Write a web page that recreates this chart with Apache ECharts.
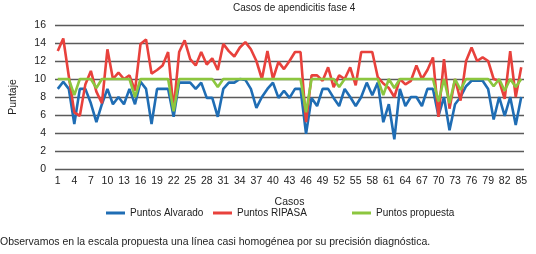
<!DOCTYPE html>
<html>
<head>
<meta charset="utf-8">
<script src="https://cdn.jsdelivr.net/npm/echarts@6/dist/echarts.min.js"></script>
<style>
  html, body { margin: 0; padding: 0; background: #fff; }
  #chart { width: 536px; height: 254px; }
</style>
</head>
<body>
<div id="chart"></div>
<script>
var casos = ['1','2','3','4','5','6','7','8','9','10','11','12','13','14','15','16','17','18','19','20',
    '21','22','23','24','25','26','27','28','29','30','31','32','33','34','35','36','37','38','39','40',
    '41','42','43','44','45','46','47','48','49','50','51','52','53','54','55','56','57','58','59','60',
    '61','62','63','64','65','66','67','68','69','70','71','72','73','74','75','76','77','78','79','80',
    '81','82','83','84','85'];

var puntosAlvarado = [8.9, 9.7, 8.9, 5.0, 8.9, 8.9, 7.3, 5.2, 7.2, 8.9,
    7.2, 8.0, 7.2, 8.9, 7.2, 9.7, 8.9, 5.0, 8.9, 8.9,
    8.9, 5.8, 9.6, 9.6, 9.6, 8.9, 9.6, 7.9, 7.9, 5.8,
    8.9, 9.6, 9.6, 10, 9.9, 8.9, 6.8, 8.0, 8.9, 9.6,
    7.9, 8.7, 7.9, 8.9, 8.9, 3.9, 7.9, 7.0, 8.9, 8.9,
    7.9, 7.0, 8.9, 8.0, 7.0, 8.0, 9.6, 8.2, 9.6, 5.2,
    7.2, 3.3, 8.9, 7.0, 8.0, 8.0, 7.0, 8.9, 8.9, 5.9,
    8.0, 4.3, 7.2, 8.0, 9.2, 9.8, 9.8, 9.8, 8.9, 5.5,
    8.0, 5.9, 8.0, 4.9, 8.0];

var puntosRipasa = [13.1, 14.5, 10.3, 6.3, 5.9, 9.4, 10.9, 8.6, 7.3, 13.3,
    10, 10.7, 10, 10.4, 8.7, 13.9, 14.4, 10.6, 11, 11.5,
    13, 6.6, 13, 14.3, 12.2, 11.5, 13, 11.6, 12.3, 11,
    13.9, 13.1, 12.5, 13.5, 14.1, 13.3, 12, 10, 13.1, 10,
    11.9, 11.1, 12, 13, 13, 5.2, 10.4, 10.4, 9.8, 11.3,
    9.1, 10.4, 10, 11.3, 9.3, 13, 13, 13, 10.2, 9.5,
    9, 8, 10, 9.4, 9.8, 11.5, 10, 11, 12.4, 5.8,
    12.2, 6.7, 10, 7.6, 12, 13.5, 12, 12.4, 12, 10,
    9.8, 7.8, 13.1, 8, 11.3];

var puntosPropuesta = [10, 10, 10, 8.2, 10, 10, 10, 9.0, 10, 10,
    10, 10, 10, 10, 8.0, 10, 10, 10, 10, 10,
    10, 6.4, 10, 10, 10, 10, 10, 10, 10, 9.1,
    10, 10, 10, 10, 10, 10, 10, 10, 10, 10,
    10, 10, 10, 10, 10, 6.3, 10, 10, 10, 10,
    10, 9.1, 10, 10, 10, 10, 10, 10, 10, 8.2,
    10, 9.0, 10, 10, 10, 10, 10, 10, 10, 7.5,
    10, 7.3, 10, 8.8, 10, 10, 10, 10, 10, 9.2,
    10, 8.7, 10, 9.1, 10];

var nombres = ['Puntos Alvarado', 'Puntos RIPASA', 'Puntos propuesta'];
var colores = ['#1f6db4', '#e8413c', '#8cc63f'];

var fuente = "'Liberation Sans', Arial, sans-serif";

var chart = echarts.init(document.getElementById('chart'));

// one legend per entry, the original spacing is uneven
var legendas = [106, 213, 352].map(function(x, i) {
    return {data: [nombres[i]], left: x, top: 208, padding: 0, itemWidth: 19, itemHeight: 3, icon: 'rect', itemGap: 6,
        textStyle: {fontSize: 10, color: '#222', fontFamily: fuente}};
});

var option = {
    animation: false,
    textStyle: {fontFamily: fuente},
    grid: {left: 51, right: 12, top: 25, bottom: 85},
    legend: legendas,
    graphic: [
        {type: 'text', left: 233, top: 3,
            style: {text: 'Casos de apendicitis fase 4', fontSize: 10, fill: '#222', fontFamily: fuente}},
        {type: 'text', left: 0, top: 237,
            style: {text: 'Observamos en la escala propuesta una línea casi homogénea por su precisión diagnóstica.',
                fontSize: 10.5, fill: '#222', fontFamily: fuente}}
    ],
    xAxis: {
        type: 'category',
        data: casos,
        boundaryGap: true,
        name: 'Casos',
        nameLocation: 'middle',
        nameGap: 28,
        nameTextStyle: {fontSize: 10.5, color: '#222'},
        axisLine: {show: false},
        axisTick: {show: false},
        axisLabel: {interval: 2, fontSize: 10.5, color: '#222', margin: 7}
    },
    yAxis: {
        type: 'value',
        min: 0,
        max: 16,
        interval: 2,
        name: 'Puntaje',
        nameLocation: 'middle',
        nameGap: 36,
        nameRotate: 90,
        nameTextStyle: {fontSize: 10.5, color: '#222'},
        axisLine: {show: false},
        axisTick: {show: false},
        axisLabel: {fontSize: 10.5, color: '#222', margin: 9},
        splitLine: {lineStyle: {color: '#5a5a5a', width: 1.3}}
    },
    series: [
        {name: nombres[0], type: 'line', data: puntosAlvarado, symbol: 'none',
            itemStyle: {color: colores[0]}, lineStyle: {color: colores[0], width: 2.6}},
        {name: nombres[1], type: 'line', data: puntosRipasa, symbol: 'none',
            itemStyle: {color: colores[1]}, lineStyle: {color: colores[1], width: 2.6}},
        {name: nombres[2], type: 'line', data: puntosPropuesta, symbol: 'none',
            itemStyle: {color: colores[2]}, lineStyle: {color: colores[2], width: 2.6}}
    ]
};

chart.setOption(option);
</script>
</body>
</html>
